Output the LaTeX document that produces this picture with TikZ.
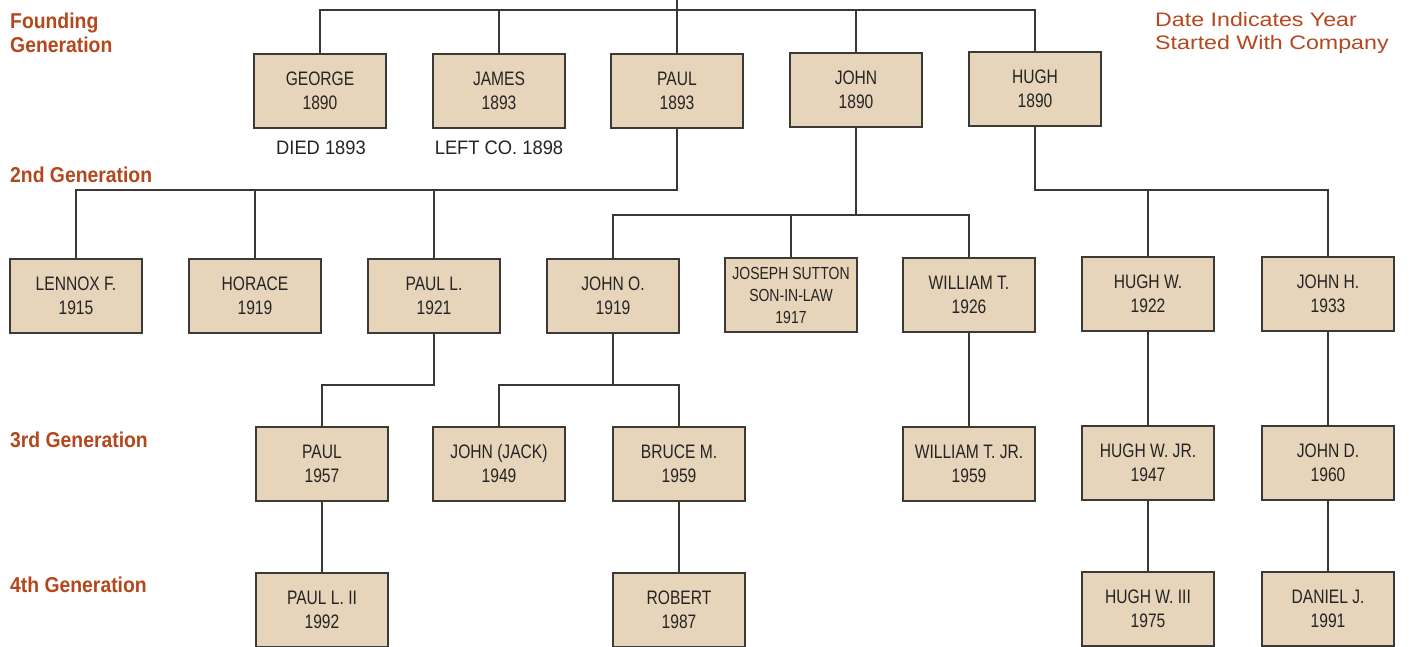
\documentclass[tikz,border=0pt]{standalone}
\usepackage{fontspec}
\setmainfont{Liberation Sans}
\newfontfamily\boxfont{Liberation Sans}[FakeStretch=0.8]
\newfontfamily\genfont{Liberation Sans Bold}[FakeStretch=0.9]
\newfontfamily\notefont{Liberation Sans}[FakeStretch=0.94]
\newfontfamily\datefont{Liberation Sans}[FakeStretch=1.19]
\definecolor{boxfill}{HTML}{E6D4BB}
\definecolor{boxline}{HTML}{3C3936}
\definecolor{linkcol}{HTML}{3A3734}
\definecolor{gencol}{HTML}{B5471D}
\definecolor{txtcol}{HTML}{262422}
\tikzset{
  person/.style={draw=boxline, fill=boxfill, line width=1.8pt, minimum width=132pt,
    minimum height=74pt, inner sep=0pt, align=center, text=txtcol,
    font=\boxfont\fontsize{19.5}{24}\selectfont},
  smallperson/.style={person, font=\boxfont\fontsize{17.5}{22}\selectfont},
  link/.style={draw=linkcol, line width=1.6pt},
  genlabel/.style={anchor=base west, inner sep=0pt, text=gencol, align=left,
    font=\genfont\fontsize{21.5}{24}\selectfont},
  note/.style={inner sep=0pt, text=txtcol, font=\notefont\fontsize{19.5}{24}\selectfont}
}
\begin{document}
\begin{tikzpicture}[x=1pt, y=-1pt]
\useasboundingbox[fill=white] (0,0) rectangle (1411,647);
% labels
\node[genlabel, anchor=north west] (lfound) at (10,12.5) {Founding\\Generation};
\node[genlabel] (l2) at (10,183) {2nd Generation};
\node[genlabel] (l3) at (10,447) {3rd Generation};
\node[genlabel] (l4) at (10,592) {4th Generation};
\node[anchor=north west, inner sep=0pt, text=gencol, align=left,
  font=\datefont\fontsize{19.5}{23}\selectfont] (ldate) at (1155,12.5)
  {Date Indicates Year\\Started With Company};
% founding generation
\node[person] (george) at (320,91) {GEORGE\\1890};
\node[person] (james) at (499,91) {JAMES\\1893};
\node[person] (paul) at (677,91) {PAUL\\1893};
\node[person] (john) at (856,90) {JOHN\\1890};
\node[person] (hugh) at (1035,89) {HUGH\\1890};
\node[note, anchor=base] (died) at (321,155) {DIED 1893};
\node[note, anchor=base] (left) at (499,155) {LEFT CO. 1898};
% 2nd generation
\node[person] (lennox) at (76,296) {LENNOX F.\\1915};
\node[person] (horace) at (255,296) {HORACE\\1919};
\node[person] (paull) at (434,296) {PAUL L.\\1921};
\node[person] (johno) at (613,296) {JOHN O.\\1919};
\node[smallperson] (joseph) at (791,295) {JOSEPH SUTTON\\SON-IN-LAW\\1917};
\node[person] (william) at (969,295) {WILLIAM T.\\1926};
\node[person] (hughw) at (1148,294) {HUGH W.\\1922};
\node[person] (johnh) at (1328,294) {JOHN H.\\1933};
% 3rd generation
\node[person] (paulc) at (322,464) {PAUL\\1957};
\node[person] (jack) at (499,464) {JOHN (JACK)\\1949};
\node[person] (bruce) at (679,464) {BRUCE M.\\1959};
\node[person] (williamjr) at (969,464) {WILLIAM T. JR.\\1959};
\node[person] (hughjr) at (1148,463) {HUGH W. JR.\\1947};
\node[person] (johnd) at (1328,463) {JOHN D.\\1960};
% 4th generation
\node[person] (paulii) at (322,610) {PAUL L. II\\1992};
\node[person] (robert) at (679,610) {ROBERT\\1987};
\node[person] (hughiii) at (1148,609) {HUGH W. III\\1975};
\node[person] (daniel) at (1328,609) {DANIEL J.\\1991};
% connectors
\coordinate (top) at (677,0);
\coordinate (b0) at (677,10);
\coordinate (b1) at (677,190);
\coordinate (b2) at (856,215);
\coordinate (b3) at (1035,190);
\coordinate (b4) at (434,385);
\coordinate (b5) at (613,385);
\draw[link] (top) -- (paul.north);
\draw[link] (george.north) |- (b0) -| (hugh.north);
\draw[link] (james.north) -- (james.north |- b0);
\draw[link] (john.north) -- (john.north |- b0);
\draw[link] (paul.south) -- (b1) -| (lennox.north);
\draw[link] (horace.north) -- (horace.north |- b1);
\draw[link] (paull.north) -- (paull.north |- b1);
\draw[link] (john.south) -- (b2);
\draw[link] (johno.north) |- (b2) -| (william.north);
\draw[link] (joseph.north) -- (joseph.north |- b2);
\draw[link] (hugh.south) -- (b3) -| (johnh.north);
\draw[link] (hughw.north) -- (hughw.north |- b3);
\draw[link] (paull.south) -- (b4) -| (paulc.north);
\draw[link] (johno.south) -- (b5);
\draw[link] (jack.north) |- (b5) -| (bruce.north);
\draw[link] (william.south) -- (williamjr.north);
\draw[link] (hughw.south) -- (hughjr.north);
\draw[link] (johnh.south) -- (johnd.north);
\draw[link] (paulc.south) -- (paulii.north);
\draw[link] (bruce.south) -- (robert.north);
\draw[link] (hughjr.south) -- (hughiii.north);
\draw[link] (johnd.south) -- (daniel.north);
\end{tikzpicture}
\end{document}
